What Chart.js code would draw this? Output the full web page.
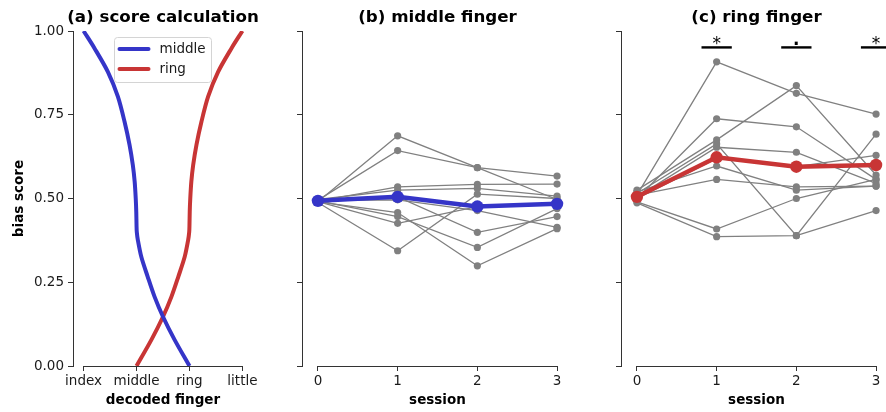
<!DOCTYPE html>
<html><head><meta charset="utf-8">
<script src="https://cdn.jsdelivr.net/npm/chart.js@4/dist/chart.umd.min.js"></script>
<style>
html,body{margin:0;padding:0;background:#fff;overflow:hidden;width:886px;height:412px;position:relative;}
canvas{position:absolute;top:0;}
</style></head><body>
<canvas id="ca" width="270" height="412" style="left:0px"></canvas>
<canvas id="cb" width="300" height="412" style="left:290px"></canvas>
<canvas id="cc" width="300" height="412" style="left:609px"></canvas>
<script>
// ---------- data ----------
const fingerLabels = ['index', 'middle', 'ring', 'little'];
const fingerTicks = [0, 1, 2, 3];
const biasTicks = [0, 0.25, 0.5, 0.75, 1.0];
const sessions = [0, 1, 2, 3];

// (a) score calculation curves
const middleCurveX = [0, 0.208, 0.459, 0.648, 0.774, 0.868, 0.93, 0.965, 0.985, 0.995, 1.0, 1.005, 1.025, 1.09, 1.21, 1.34, 1.5, 1.72, 2.0];
const middleCurveY = [1.0, 0.948, 0.878, 0.804, 0.729, 0.66, 0.60, 0.55, 0.50, 0.46, 0.42, 0.40, 0.376, 0.326, 0.267, 0.207, 0.147, 0.078, 0.0];
const ringCurveX = [1.0, 1.28, 1.5, 1.66, 1.79, 1.91, 1.975, 1.995, 2.0, 2.005, 2.015, 2.035, 2.07, 2.132, 2.226, 2.352, 2.541, 2.792, 3.0];
const ringCurveY = [0.0, 0.078, 0.147, 0.207, 0.267, 0.326, 0.376, 0.40, 0.42, 0.46, 0.50, 0.55, 0.60, 0.66, 0.729, 0.804, 0.878, 0.948, 1.0];

// (b) middle finger: per-subject bias score per session
const middleSubjects = [
  [0.490, 0.687, 0.592, 0.497],
  [0.495, 0.643, 0.592, 0.567],
  [0.492, 0.535, 0.542, 0.543],
  [0.497, 0.525, 0.530, 0.507],
  [0.488, 0.344, 0.513, 0.500],
  [0.494, 0.496, 0.464, 0.414],
  [0.490, 0.458, 0.299, 0.410],
  [0.493, 0.446, 0.354, 0.470],
  [0.491, 0.426, 0.476, 0.484],
  [0.494, 0.505, 0.399, 0.446]
];
const middleMean = [0.493, 0.505, 0.476, 0.484];

// (c) ring finger
const ringSubjects = [
  [0.510, 0.908, 0.814, 0.752],
  [0.525, 0.675, 0.837, 0.570],
  [0.500, 0.738, 0.714, 0.557],
  [0.505, 0.653, 0.638, 0.545],
  [0.515, 0.663, 0.389, 0.692],
  [0.490, 0.409, 0.500, 0.557],
  [0.487, 0.386, 0.389, 0.464],
  [0.520, 0.597, 0.525, 0.537],
  [0.510, 0.557, 0.535, 0.537],
  [0.500, 0.620, 0.595, 0.629]
];
const ringMean = [0.505, 0.623, 0.595, 0.600];

const sigSessions = [1, 2, 3];
const sigLabels = ['*', '.', '*'];

// ---------- style ----------
const BLUE = '#3535c8', RED = '#c83535', GRAY = '#808080', AXIS = '#333333', TXT = '#1a1a1a';
const FONT = 'DejaVu Sans';

function pts(xs, ys) { return xs.map((x, i) => ({x: x, y: ys[i]})); }

const panelTitle = {
  id: 'panelTitle',
  afterDraw(chart, args, o) {
    const {ctx, chartArea: a} = chart;
    ctx.save();
    ctx.font = 'bold 16.7px "' + FONT + '"';
    ctx.fillStyle = '#000';
    ctx.textAlign = 'center';
    ctx.textBaseline = 'middle';
    ctx.fillText(o.text, (a.left + a.right) / 2, 18);
    ctx.restore();
  }
};

const trimmedX = {
  id: 'trimmedX',
  afterDraw(chart, args, o) {
    const {ctx, chartArea: a, scales: {x}} = chart;
    const y = Math.round(a.bottom - 0.5) + 0.5;
    ctx.save();
    ctx.strokeStyle = AXIS; ctx.lineWidth = 1;
    ctx.beginPath();
    ctx.moveTo(Math.round(x.getPixelForValue(o.from)) - 0.5, y);
    ctx.lineTo(Math.round(x.getPixelForValue(o.to)) + 1, y);
    ctx.stroke();
    ctx.restore();
  }
};

const boxLegend = {
  id: 'boxLegend',
  afterDraw(chart, args, o) {
    if (!o.show) return;
    const {ctx, chartArea: a} = chart;
    const bx = a.left + 41.5, by = a.top + 6.5, bw = 97, bh = 45;
    ctx.save();
    ctx.beginPath();
    ctx.roundRect(bx, by, bw, bh, 3);
    ctx.fillStyle = 'rgba(255,255,255,0.85)';
    ctx.fill();
    ctx.strokeStyle = '#d4d4d4'; ctx.lineWidth = 1;
    ctx.stroke();
    ctx.font = '13.5px "' + FONT + '"';
    ctx.textBaseline = 'middle';
    ctx.fillStyle = TXT;
    chart.data.datasets.forEach((ds, i) => {
      const yy = by + 11.5 + i * 20;
      ctx.beginPath();
      ctx.lineCap = 'round';
      ctx.strokeStyle = ds.borderColor; ctx.lineWidth = 4;
      ctx.moveTo(bx + 5, yy); ctx.lineTo(bx + 34, yy);
      ctx.stroke();
      ctx.fillText(ds.label, bx + 45, yy);
    });
    ctx.restore();
  }
};

const sigMarks = {
  id: 'sigMarks',
  afterDraw(chart, args, o) {
    if (!o.show) return;
    const {ctx, scales: {x, y}} = chart;
    const yb = y.getPixelForValue(o.level);
    ctx.save();
    ctx.strokeStyle = '#000'; ctx.lineWidth = 2.4;
    ctx.fillStyle = '#000';
    ctx.textAlign = 'center';
    ctx.textBaseline = 'alphabetic';
    sigSessions.forEach((s, i) => {
      ctx.beginPath();
      ctx.moveTo(x.getPixelForValue(s - 0.19), yb);
      ctx.lineTo(x.getPixelForValue(s + 0.19), yb);
      ctx.stroke();
      const t = sigLabels[i];
      ctx.font = (t === '*' ? '17px' : 'bold 17px') + ' "' + FONT + '"';
      const m = ctx.measureText(t);
      const inkBottom = yb - 2.2;
      ctx.fillText(t, x.getPixelForValue(s), inkBottom - m.actualBoundingBoxDescent);
    });
    ctx.restore();
  }
};

function yScale(width, showLabels, title) {
  return {
    type: 'linear', min: 0, max: 1,
    afterBuildTicks: s => { s.ticks = biasTicks.map(v => ({value: v})); },
    afterFit: s => { s.width = width; },
    border: {display: true, color: AXIS, width: 1},
    grid: {display: true, drawOnChartArea: false, drawTicks: true, tickLength: 5, color: AXIS},
    ticks: {display: showLabels, padding: 4, color: TXT, font: {family: FONT, size: 13.5},
            callback: v => v.toFixed(2)},
    title: {display: !!title, text: title || '', color: '#000', font: {family: FONT, size: 13.5, weight: 'bold'},
            padding: {top: 11, bottom: 0}}
  };
}

function xScale(title, labelFn) {
  return {
    type: 'linear', min: -0.2, max: 3.2,
    afterBuildTicks: s => { s.ticks = fingerTicks.map(v => ({value: v})); },
    afterFit: s => { s.height = 46; },
    border: {display: false},
    grid: {display: true, drawOnChartArea: false, drawTicks: true, tickLength: 5, color: AXIS},
    ticks: {padding: 2, color: TXT, font: {family: FONT, size: 13.5}, maxRotation: 0, autoSkip: false,
            callback: labelFn},
    title: {display: true, text: title, color: '#000', font: {family: FONT, size: 13.5, weight: 'bold'},
            padding: {top: 0, bottom: 3}}
  };
}

function baseOptions(padRight, yWidth, yLabels, yTitle, xTitle, xLabelFn, titleText, legendShow, sigShow) {
  return {
    responsive: false, animation: false, events: [],
    layout: {padding: {top: 31, right: padRight, left: 0, bottom: 0}},
    scales: {x: xScale(xTitle, xLabelFn), y: yScale(yWidth, yLabels, yTitle)},
    plugins: {
      legend: {display: false}, tooltip: {enabled: false}, title: {display: false},
      panelTitle: {text: titleText},
      trimmedX: {from: 0, to: 3},
      boxLegend: {show: legendShow},
      sigMarks: {show: sigShow, level: 0.951}
    }
  };
}

const plugins = [panelTitle, trimmedX, boxLegend, sigMarks];

// (a)
new Chart(document.getElementById('ca'), {
  type: 'line',
  data: {datasets: [
    {label: 'middle', data: pts(middleCurveX, middleCurveY), borderColor: BLUE, borderWidth: 4, pointRadius: 0, tension: 0.3, fill: false},
    {label: 'ring', data: pts(ringCurveX, ringCurveY), borderColor: RED, borderWidth: 4, pointRadius: 0, tension: 0.3, fill: false}
  ]},
  options: baseOptions(17, 73, true, 'bias score', 'decoded finger', v => fingerLabels[fingerTicks.indexOf(v)], '(a) score calculation', true, false),
  plugins: plugins
});

function sessionDatasets(subjects, mean, color) {
  const ds = [{label: 'mean', data: pts(sessions, mean), borderColor: color, backgroundColor: color,
               borderWidth: 4.5, pointRadius: 6.2, pointBorderWidth: 0, tension: 0}];
  subjects.forEach(s => ds.push({label: 'subject', data: pts(sessions, s), borderColor: GRAY, backgroundColor: GRAY,
               borderWidth: 1.3, pointRadius: 3.6, pointBorderWidth: 0, tension: 0}));
  return ds;
}

// (b)
new Chart(document.getElementById('cb'), {
  type: 'line',
  data: {datasets: sessionDatasets(middleSubjects, middleMean, BLUE)},
  options: baseOptions(17, 12, false, '', 'session', v => String(v), '(b) middle finger', false, false),
  plugins: plugins
});

// (c)
new Chart(document.getElementById('cc'), {
  type: 'line',
  data: {datasets: sessionDatasets(ringSubjects, ringMean, RED)},
  options: baseOptions(17, 12, false, '', 'session', v => String(v), '(c) ring finger', false, true),
  plugins: plugins
});
</script>
</body></html>
